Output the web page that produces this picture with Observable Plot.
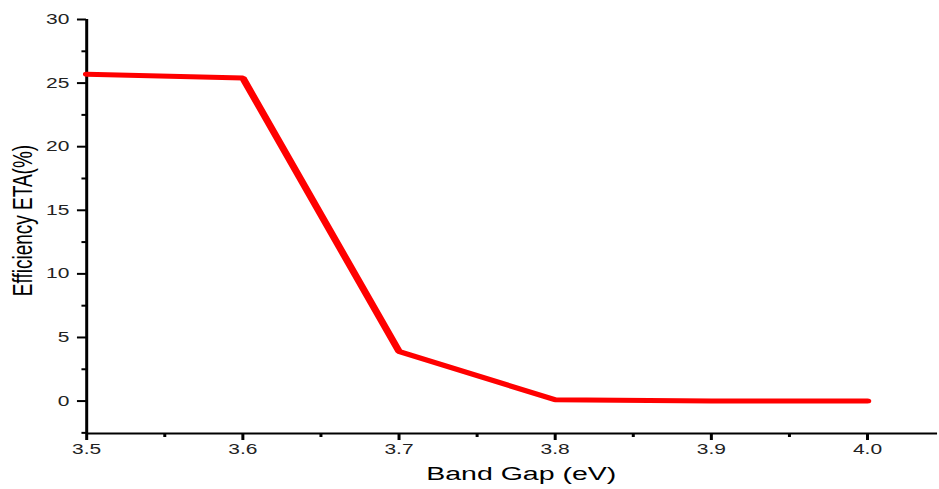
<!DOCTYPE html>
<html>
<head>
<meta charset="utf-8">
<script src="https://cdn.jsdelivr.net/npm/d3@7"></script>
<script src="https://cdn.jsdelivr.net/npm/@observablehq/plot@0.6"></script>
<style>
  html, body { margin: 0; padding: 0; background: #fff; }
  #chart { width: 939px; height: 489px; overflow: hidden; }
</style>
</head>
<body>
<div id="chart"></div>
<script>
const bandGap = [3.5, 3.6, 3.7, 3.8, 3.9, 4.0];
const efficiency = [25.7, 25.4, 3.9, 0.1, 0.0, 0.0];
const xTicks = [3.5, 3.6, 3.7, 3.8, 3.9, 4.0];
const xMinorTicks = [3.55, 3.65, 3.75, 3.85, 3.95];
const yTicks = [0, 5, 10, 15, 20, 25, 30];
const yMinorTicks = [-2.5, 2.5, 7.5, 12.5, 17.5, 22.5, 27.5];
const xLabel = "Band Gap (eV)";
const yLabel = "Efficiency ETA(%)";

const data = bandGap.map((x, i) => ({x, y: efficiency[i]}));

// The reference image is stretched horizontally; draw at a narrower virtual width and stretch.
const STRETCH = 1.5;
const W = 939, H = 489;
const VW = W / STRETCH;

const xDomain = [3.5, 4.045];
const yDomain = [-2.55, 30];

const svg = Plot.plot({
  width: VW,
  height: H,
  marginLeft: 57.3,
  marginRight: 1.3,
  marginTop: 19,
  marginBottom: 56,
  style: {fontFamily: "'Liberation Sans', Arial, sans-serif", background: "#fff", color: "#000"},
  x: {domain: xDomain, label: null},
  y: {domain: yDomain, label: null},
  marks: [
    Plot.axisX({ticks: xTicks, tickSize: 7, tickPadding: 4, strokeWidth: 2, fontSize: 14, fill: "#222", tickFormat: d3.format(".1f"), label: null}),
    Plot.axisX({ticks: xMinorTicks, tickSize: 4, strokeWidth: 2, text: null, label: null}),
    Plot.axisY({ticks: yTicks, tickSize: 6, tickPadding: 5.5, strokeWidth: 2, fontSize: 14, fill: "#222", tickFormat: d3.format("d"), label: null}),
    Plot.axisY({ticks: yMinorTicks, tickSize: 3, strokeWidth: 2, text: null, label: null}),
    Plot.ruleX([xDomain[0]], {strokeWidth: 2, stroke: "#000"}),
    Plot.ruleY([yDomain[0]], {strokeWidth: 2, stroke: "#000"}),
    Plot.line(data, {x: "x", y: "y", stroke: "#ff0000", strokeWidth: 5, strokeLinecap: "round", strokeLinejoin: "miter"}),
    Plot.text([xLabel], {frameAnchor: "bottom", textAnchor: "middle", lineAnchor: "middle", dx: 6, dy: 40, fontSize: 19, fill: "#000", text: d => d}),
    Plot.text([yLabel], {frameAnchor: "left", textAnchor: "middle", lineAnchor: "middle", dx: -42.6, dy: -6, rotate: -90, fontSize: 19, fill: "#000", text: d => d})
  ]
});

svg.setAttribute("viewBox", `0 0 ${VW} ${H}`);
svg.setAttribute("preserveAspectRatio", "none");
svg.setAttribute("width", W);
svg.setAttribute("height", H);
svg.style.width = W + "px";
svg.style.height = H + "px";
svg.style.maxWidth = "none";
svg.style.overflow = "visible";
document.getElementById("chart").appendChild(svg);
</script>
</body>
</html>
